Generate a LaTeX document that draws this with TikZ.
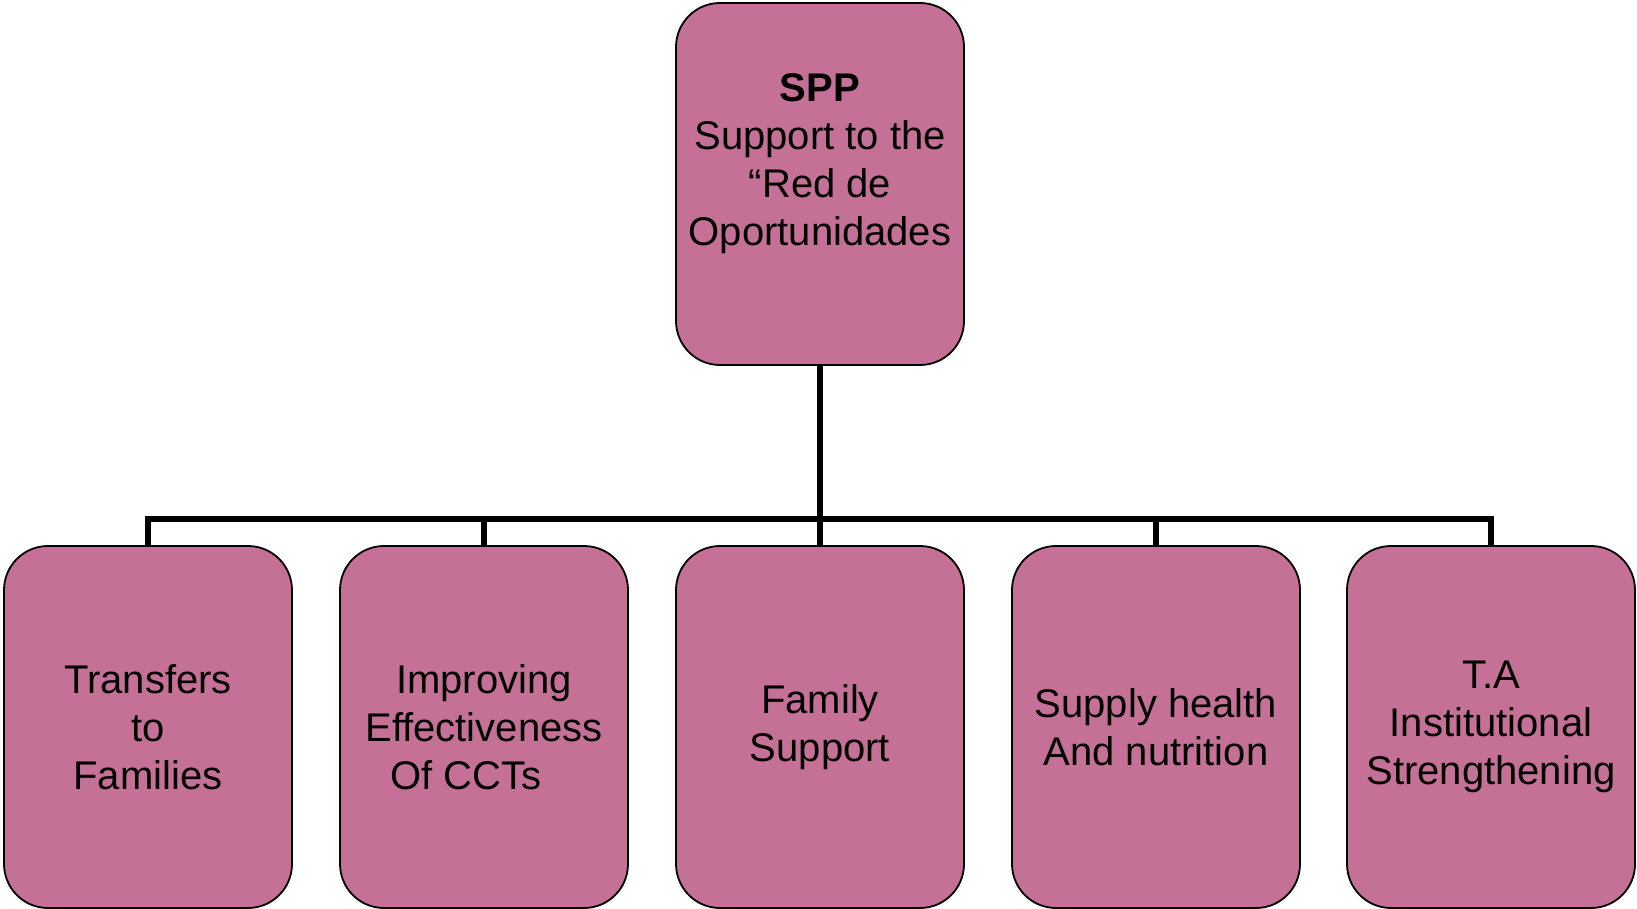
\documentclass[tikz,border=0pt]{standalone}
\usepackage{fontspec}
\setmainfont{Liberation Sans}
\definecolor{boxpink}{RGB}{197,112,151}
\begin{document}
\begin{tikzpicture}[x=1pt,y=-1pt,
  orgbox/.style={draw=black, line width=1.8pt, fill=boxpink, rounded corners=44pt,
    minimum width=288pt, minimum height=362pt, inner sep=0pt, align=center,
    font=\fontsize{40}{48}\selectfont},
  link/.style={line width=5.5pt, line join=miter}]
\useasboundingbox (0,0) rectangle (1637,909);

% root of the chart
\node[orgbox] (top) at (820,184) {\textbf{SPP}\\Support to the\\“Red de\\Oportunidades\\\mbox{}};

% second level
\node[orgbox] (c1) at (148,727) {Transfers\\to\\Families};
\node[orgbox] (c2) at (484,727) {Improving\\Effectiveness\\Of CCTs\hspace*{36pt}};
\node[orgbox] (c3) at (820,727) {Family\\Support};
\node[orgbox] (c4) at (1156,727) {Supply health\\And nutrition};
\node[orgbox] (c5) at (1491,727) {T.A\\Institutional\\Strengthening};

% horizontal bus between the levels
\coordinate (bar) at (820,519);
\draw[link] (top.south) -- (top.south |- bar);
\draw[link] (c1.north) -- (c1.north |- bar) -- (c5.north |- bar) -- (c5.north);
\draw[link] (c2.north) -- (c2.north |- bar);
\draw[link] (c3.north) -- (c3.north |- bar);
\draw[link] (c4.north) -- (c4.north |- bar);
\end{tikzpicture}
\end{document}
